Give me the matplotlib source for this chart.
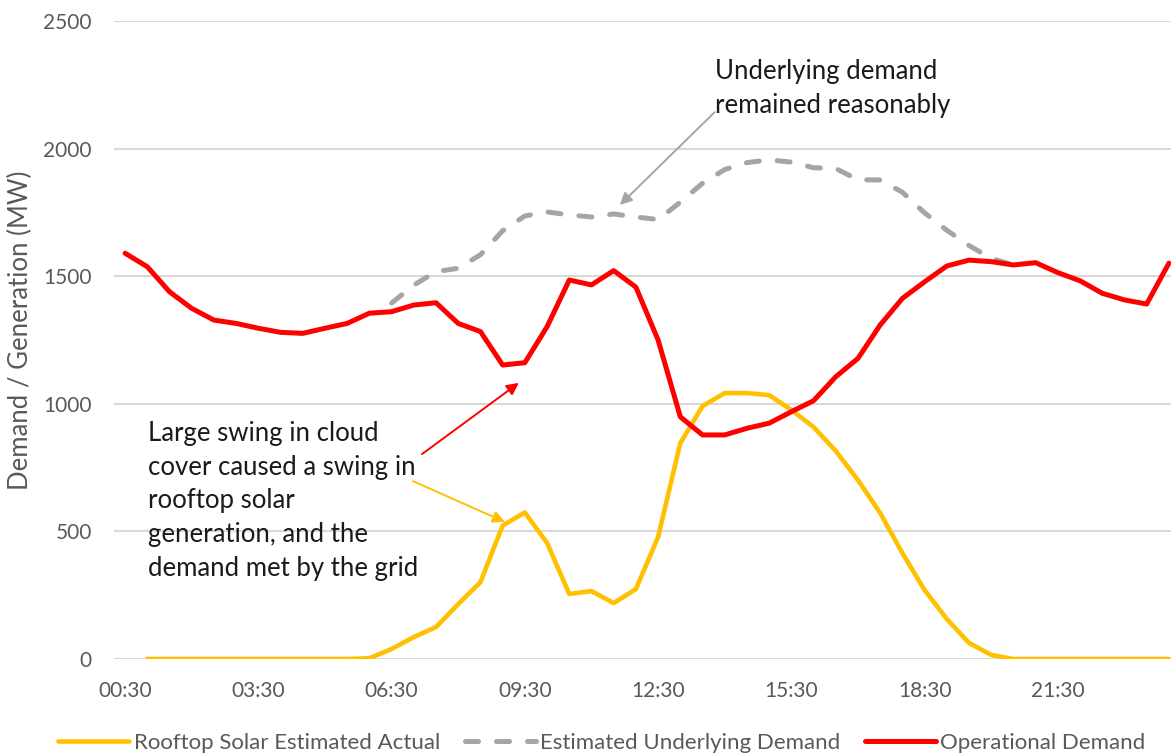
import numpy as np
import matplotlib
matplotlib.use("Agg")
import matplotlib.pyplot as plt

plt.rcParams["font.family"] = ["Lato", "DejaVu Sans"]

nan = np.nan

# half-hourly intervals, 00:30 through 24:00
times = [f"{(m // 60) % 24:02d}:{m % 60:02d}" for m in range(30, 24 * 60 + 1, 30)]

rooftop_solar = [
    nan, 0, 0, 0, 0, 0, 0, 0, 0, 0, 0, 3,
    39, 86, 125, 215, 301, 523, 574, 455, 255, 266, 219, 274,
    478, 846, 991, 1042, 1042, 1034, 976, 909, 815, 701, 572, 415,
    270, 157, 63, 16, 0, 0, 0, 0, 0, 0, 0, 0,
]

underlying_demand = [
    nan, nan, nan, nan, nan, nan, nan, nan, nan, nan, nan, nan,
    1395, 1465, 1518, 1531, 1584, 1678, 1736, 1752, 1740, 1732, 1744, 1732,
    1722, 1790, 1864, 1918, 1945, 1956, 1947, 1925, 1922, 1878, 1877, 1829,
    1748, 1680, 1620, 1570, 1544, nan, nan, nan, nan, nan, nan, nan,
]

operational_demand = [
    1590, 1537, 1439, 1374, 1328, 1315, 1296, 1280, 1276, 1296, 1315, 1355,
    1361, 1387, 1396, 1315, 1283, 1152, 1161, 1302, 1485, 1466, 1522, 1457,
    1250, 949, 878, 878, 904, 924, 969, 1012, 1106, 1178, 1309, 1413,
    1478, 1540, 1563, 1557, 1544, 1553, 1514, 1482, 1433, 1407, 1391, 1551,
]

x = np.arange(len(times))

fig = plt.figure(figsize=(11.71, 7.56), dpi=100)
ax = fig.add_axes([114 / 1171, 1 - 659 / 756, 1066 / 1171, 638 / 756])

ax.plot(x, rooftop_solar, color="#FFC000", lw=3.3, solid_capstyle="round",
        solid_joinstyle="round", label="Rooftop Solar Estimated Actual", zorder=3)
ax.plot(x, underlying_demand, color="#A5A5A5", lw=3.6, dashes=(2.6, 3.6),
        dash_capstyle="round", label="Estimated Underlying Demand", zorder=3)
ax.plot(x, operational_demand, color="#FF0000", lw=3.6, solid_capstyle="round",
        solid_joinstyle="round", label="Operational Demand", zorder=4)

ax.set_xlim(-0.5, 47.5)
ax.set_ylim(0, 2500)
ax.set_yticks(range(0, 2501, 500))
ax.set_xticks(x[::6])
ax.set_xticklabels(times[::6])
ax.tick_params(axis="both", length=0, labelsize=15, labelcolor="#595959")
ax.tick_params(axis="y", pad=16)
ax.tick_params(axis="x", pad=16)
ax.grid(axis="y", color="#D9D9D9", lw=1.5)
ax.set_axisbelow(True)
for s in ax.spines.values():
    s.set_visible(False)

fig.text(20 / 1171, 1 - 330 / 756, "Demand / Generation (MW)", rotation=90,
         ha="center", va="center", fontsize=18.5, color="#595959")

# callouts
text_kw = dict(fontsize=18.5, color="#1a1a1a", ha="left", va="top", linespacing=1.43)
ax.text(26.55, 2350, "Underlying demand\nremained reasonably", **text_kw)
ax.text(1.03, 932, "Large swing in cloud\ncover caused a swing in\nrooftop solar\n"
        "generation, and the\ndemand met by the grid", **text_kw)

def arrow(tail, head, color):
    ax.annotate("", xy=head, xytext=tail,
                arrowprops=dict(arrowstyle="-|>", color=color, lw=1.4,
                                mutation_scale=18, shrinkA=0, shrinkB=0),
                zorder=5)

arrow((26.55, 2143), (22.28, 1779), "#A5A5A5")
arrow((13.37, 803), (17.73, 1082), "#FF0000")
arrow((12.96, 697), (17.1, 537), "#FFC000")

fig.legend(loc="center", bbox_to_anchor=(602 / 1171, 1 - 743 / 756), ncol=3,
           frameon=False, fontsize=16, handlelength=3.2, handletextpad=0.2,
           columnspacing=1.1, labelcolor="#595959")

fig.savefig("out.png", dpi=100)
